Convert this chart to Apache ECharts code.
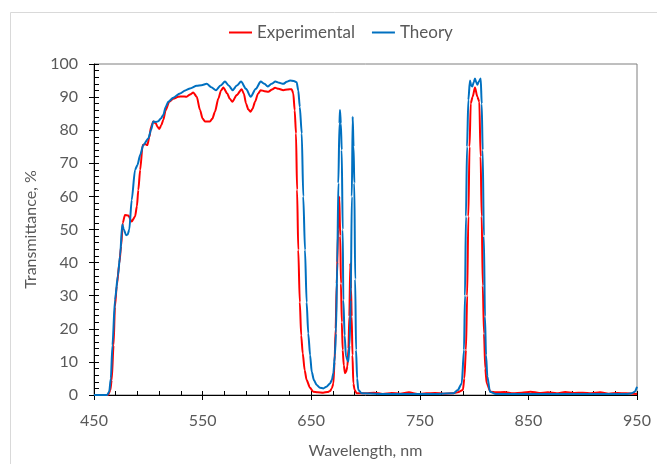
<!DOCTYPE html>
<html>
<head>
<meta charset="utf-8">
<script src="https://cdn.jsdelivr.net/npm/echarts@6/dist/echarts.min.js"></script>
<style>html,body{margin:0;padding:0;background:#fff;}#c{width:657px;height:464px;}</style>
</head>
<body>
<div id="c"></div>
<script>
// Wavelength (nm) / transmittance (%)
const seriesNames = ['Experimental', 'Theory'];
const xTicks = [450, 550, 650, 750, 850, 950];
const yTicks = [0, 10, 20, 30, 40, 50, 60, 70, 80, 90, 100];

const expWl = [450,463,465,466.3,468,469.3,471,473.3,475,476.5,478.5,481.6,484.7,487.8,489.5,490.8,492.5,494.8,497,499.1,501,502.5,504.6,507,508.5,510.1,512,513.8,516,519.3,523,527.6,531,535.3,538.5,541.4,544.6,547.6,550,552.2,556.8,559,561.4,564.5,567,569.1,572.7,575,577.4,581.4,586,588,590,592,594.3,596,598.3,601,603.5,607,610.5,614,616.7,620,624.3,628,632,633.5,634.8,636,637,638.1,639.5,640.8,642.2,644,645.8,648.9,651.9,656,661,665,667.3,669,670.4,671.5,672.5,673.5,674.8,675.9,676.7,677.4,678.2,679,680,681.1,682.2,683.3,684.3,685.1,686,686.7,687.3,688,688.8,690,691.9,700,708,716,724,732,740,748,756,764,772,780,785,789.7,791,792.5,793.6,794.7,795.8,796.9,798.7,800.8,803,804.8,806,807,808,809.1,810.3,811.6,815,820,828,836,844,852,860,868,876,884,892,900,908,916,924,932,940,950];
const expT  = [0,0,1.5,4.5,15,26.7,33,39.8,45,52,54.4,54.2,52.4,53.9,57,61.9,68,75.5,75.8,75.5,78,81,82.6,82,81,80.4,81.5,83.1,86,88.6,89.5,90.1,90.2,90.1,90.8,91.4,90.1,86.1,83.5,82.6,82.6,83.5,85.6,89.6,92,92.9,91.1,89.5,88.6,90.6,92.4,91,88.1,86.3,85.6,86.5,88.6,91,92.1,91.8,91.6,92.3,92.8,92.5,92.1,92.3,92.4,91.1,86,79,62,43.8,28,18,12.6,7.5,4.5,2.2,1,0.8,0.7,0.9,1.2,2,3.5,10,20,33.7,50,59.9,48,33.7,22,13.6,9,6.6,7,8.6,14,23.7,39.8,32,23.7,12,3.5,1.5,0.5,0.5,0.7,0.3,0.6,0.4,0.8,0.3,0.5,0.6,0.4,0.5,0.8,1.5,5,13.6,30,53.9,75,88.1,90.1,92.9,90.1,88.6,72,53.9,33,18.6,8,3.5,1,0.8,0.9,0.5,0.7,1,0.6,0.8,0.5,0.9,0.6,0.7,0.5,0.8,0.4,0.6,0.5,0.3];

const theoWl = [450,462,464,465.5,467,469.3,472,474,476,477.5,479.5,481,482.5,484.7,487.8,490,492.5,495.4,500,502.5,504.6,507,509.2,511.5,513.8,516,518.4,523,529.2,534,538.4,544.6,549,553.8,558,562.3,566.5,570.6,574,577.7,581.5,585.4,590,594.3,599,603.5,607,609.9,613.5,617,620.5,624.3,627.5,630.5,634,636.6,638.1,639.5,641.3,642.7,644.3,645.8,647.3,649,650.5,652.5,655.1,658,661.2,664,667.3,669,670.4,671.8,672.8,674,675,676,676.5,677.3,678.1,679,679.6,680.8,682,684.2,685.3,686.4,687.4,688.2,689,689.7,690.5,691.3,692.3,693.4,696.5,720,760,780.9,785,788.6,790.7,791.6,792.5,793.5,794.7,796.2,797.3,798.4,799.6,800.8,802,803,804.5,806.1,807,807.9,809,810,811,812.2,814.6,820,900,940,945,948,950];
const theoT  = [0,0,1,5,15,28.7,36,42,51.5,50,48.3,48.5,50,58.9,68,69.5,72.5,75.5,77.5,80,82.6,82.5,82.7,83.5,84.6,87,88.6,89.8,91.1,92,92.6,93.4,93.6,94,93,92.1,93.5,94.7,93.5,92.1,93.5,94.7,92.5,90.1,92.5,94.7,94,93.2,94,94.7,94.3,94,94.6,95,94.9,94.5,92,87,79,60,43.8,28,18.6,12,7,4.5,3,2.2,2,2.5,3.5,4.5,6.6,12,18.6,40,64,82,86.1,82,74,50,28.7,18,11.6,10.1,15,28.7,60,84.1,75,64,35,13.6,5,1.5,0.5,0.3,0.3,0.5,1.5,3.5,13.6,30,53.9,75,89.1,95,93.5,93.2,94.5,95.6,94.5,93.7,94.8,95.6,88,74,48,23.7,12,5.6,1,0.3,0.3,0.3,0.5,1,2.5];

const colors = ['#FF0000', '#0070C0'];
const FONT = 'Lato';
const TXT = '#595959';

function pairs(xs, ys) { return xs.map((x, i) => [x, ys[i]]); }

const chart = echarts.init(document.getElementById('c'), null, { renderer: 'canvas' });
chart.setOption({
  animation: false,
  backgroundColor: '#fff',
  textStyle: { fontFamily: FONT },
  graphic: [{
    type: 'rect', silent: true, z: -10,
    shape: { x: 10.5, y: 12.5, width: 700, height: 500 },
    style: { fill: 'none', stroke: '#d9d9d9', lineWidth: 1 }
  }],
  legend: {
    top: 19, left: 224,
    icon: 'rect', itemWidth: 23, itemHeight: 2, itemGap: 17,
    textStyle: { fontFamily: FONT, fontSize: 17, color: TXT },
    data: seriesNames
  },
  grid: {
    left: 94, right: 20, top: 64, bottom: 69,
    show: true, borderColor: '#7f7f7f', borderWidth: 1, backgroundColor: 'transparent'
  },
  xAxis: [{
    type: 'value', min: xTicks[0], max: xTicks[xTicks.length - 1], interval: 100,
    name: 'Wavelength, nm', nameLocation: 'middle', nameGap: 48,
    nameTextStyle: { fontFamily: FONT, fontSize: 16, color: TXT },
    axisLine: { show: true, onZero: false, lineStyle: { color: '#000', width: 1 } },
    axisTick: { show: true, length: 5, lineStyle: { color: '#000' } },
    axisLabel: { fontFamily: FONT, fontSize: 16, color: TXT, margin: 18 },
    splitLine: { show: false }
  }, {
    type: 'value', min: 450, max: 950, interval: 20, position: 'bottom',
    axisLine: { show: false },
    axisTick: { show: true, inside: true, length: 4, lineStyle: { color: '#000' } },
    axisLabel: { show: false }, splitLine: { show: false }
  }],
  yAxis: [{
    type: 'value', min: yTicks[0], max: yTicks[yTicks.length - 1], interval: 10,
    name: 'Transmittance, %', nameLocation: 'middle', nameGap: 51, nameRotate: 90,
    nameTextStyle: { fontFamily: FONT, fontSize: 16, color: TXT },
    axisLine: { show: true, onZero: false, lineStyle: { color: '#000', width: 1 } },
    axisTick: { show: true, length: 5, lineStyle: { color: '#000' } },
    axisLabel: { fontFamily: FONT, fontSize: 16, color: TXT, margin: 16 },
    splitLine: { show: false }
  }, {
    type: 'value', min: 0, max: 100, interval: 2, position: 'left',
    axisLine: { show: false },
    axisTick: { show: true, inside: true, length: 5, lineStyle: { color: '#000' } },
    axisLabel: { show: false }, splitLine: { show: false }
  }],
  series: [{
    name: seriesNames[0], type: 'line', xAxisIndex: 0, yAxisIndex: 0,
    data: pairs(expWl, expT), showSymbol: false, symbol: 'none',
    smooth: 0.25, smoothMonotone: 'x',
    lineStyle: { color: colors[0], width: 2 }, itemStyle: { color: colors[0] }
  }, {
    name: seriesNames[1], type: 'line', xAxisIndex: 0, yAxisIndex: 0,
    data: pairs(theoWl, theoT), showSymbol: false, symbol: 'none',
    smooth: 0.25, smoothMonotone: 'x',
    lineStyle: { color: colors[1], width: 2 }, itemStyle: { color: colors[1] }
  }]
});
</script>
</body>
</html>
